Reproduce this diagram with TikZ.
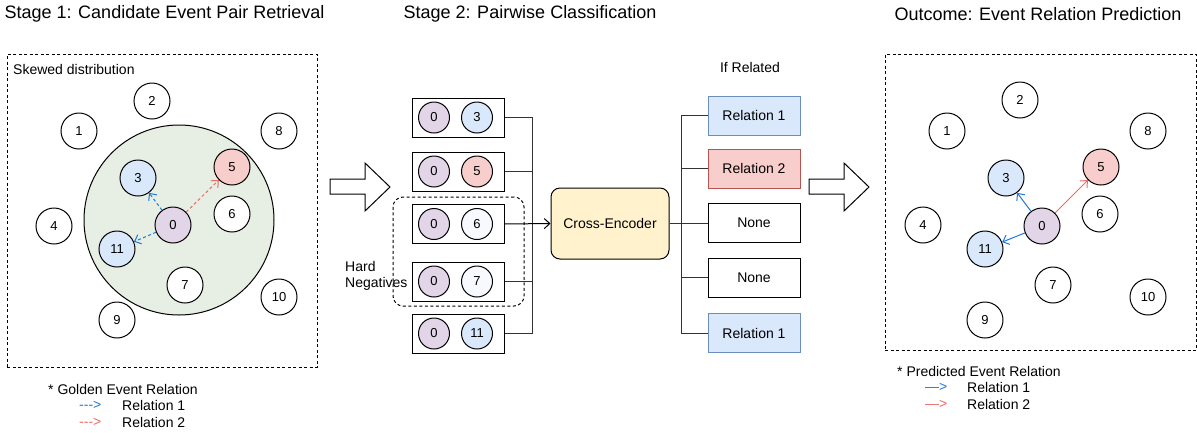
\documentclass[tikz,border=0pt]{standalone}
\usepackage{fontspec}
\setmainfont{Liberation Sans}
\usetikzlibrary{arrows.meta}

\definecolor{bluefill}{HTML}{DAE8FC}
\definecolor{blueline}{HTML}{6C8EBF}
\definecolor{redfill}{HTML}{F8CECC}
\definecolor{redline}{HTML}{B85450}
\definecolor{purplefill}{HTML}{E1D5E7}
\definecolor{greenfill}{HTML}{E7EEE3}
\definecolor{yellowfill}{HTML}{FFF2CC}
\definecolor{relblue}{HTML}{1E78DC}
\definecolor{relred}{HTML}{EA6B66}
\definecolor{negfill}{HTML}{F8F9FF}
\definecolor{wire}{HTML}{333333}

\begin{document}
\begin{tikzpicture}[x=1pt,y=-1pt,
  font=\fontsize{14}{16}\selectfont,
  title/.style={anchor=west,font=\fontsize{18}{21}\selectfont},
  ev/.style={circle,draw=black,line width=1pt,minimum size=36pt,inner sep=0pt,fill=white,
    font=\fontsize{13}{15}\selectfont},
  pev/.style={ev,minimum size=31pt},
  pairbox/.style={draw=black,line width=1pt,minimum width=92pt,minimum height=39pt,inner sep=0pt},
  relbox/.style={draw=black,line width=1pt,minimum width=92pt,minimum height=39pt,inner sep=0pt},
  frame/.style={draw=black,line width=1pt,dash pattern=on 3pt off 2.5pt},
  opentip/.style={-{Straight Barb[length=5.5pt,width=10pt]}},
  goldrel/.style={opentip,dash pattern=on 3pt off 2.5pt,line width=1pt},
  predrel/.style={opentip,line width=1pt},
  hollow/.style={draw=black,line width=1pt,fill=white},
  wireline/.style={draw=wire,line width=1pt},
  legend/.style={anchor=west,inner sep=0pt}
]
\useasboundingbox (0,0) rectangle (1197,432);

% ---------- titles ----------
\node[title] (t1) at (1,14) {Stage 1: Candidate Event Pair Retrieval};
\node[title] (t2) at (400,14) {Stage 2: Pairwise Classification};
\node[title] (t3) at (891,14) {Outcome: Event Relation Prediction};

% ---------- stage 1: candidate retrieval ----------
\node[frame,minimum width=310pt,minimum height=313pt,inner sep=0pt] (f1) at (162,210.5) {};
\node[legend] (skew) at (13,69) {Skewed distribution};
\node[circle,draw=black,line width=1pt,fill=greenfill,minimum size=190pt,inner sep=0pt] (hub) at (179,220) {};

\node[ev] (a2) at (152,101) {2};
\node[ev] (a1) at (79,131) {1};
\node[ev] (a8) at (279,131) {8};
\node[ev,fill=bluefill] (a3) at (138,178) {3};
\node[ev,fill=redfill] (a5) at (232,167) {5};
\node[ev] (a6) at (232,214) {6};
\node[ev,fill=purplefill] (a0) at (173,225) {0};
\node[ev] (a4) at (54,226) {4};
\node[ev,fill=bluefill] (a11) at (117,249) {11};
\node[ev] (a7) at (185,285) {7};
\node[ev] (a10) at (279,297) {10};
\node[ev] (a9) at (117,320) {9};

\draw[goldrel,relblue] (a0) -- (a3);
\draw[goldrel,relblue] (a0) -- (a11);
\draw[goldrel,relred] (a0) -- (a5);

\node[legend] (gl) at (48,389) {* Golden Event Relation};
\node[legend,text=relblue] (gl1a) at (79,405) {-{}-{}-{}>};
\node[legend] (gl1) at (122,405) {Relation 1};
\node[legend,text=relred] (gl2a) at (79,422) {-{}-{}-{}>};
\node[legend] (gl2) at (122,422) {Relation 2};

% ---------- hollow arrow into stage 2 ----------
\draw[hollow] (330,179) -- (365,179) -- (365,163) -- (390,187)
  -- (365,211) -- (365,194) -- (330,194) -- cycle;

% ---------- stage 2: candidate pairs ----------
\node[frame,rounded corners=10pt,minimum width=131pt,minimum height=109pt] (hn) at (458.5,251.5) {};
\node[anchor=west,align=left,inner sep=0pt] (hnl) at (345,276) {Hard\\Negatives};

\foreach \i/\y in {1/117.5, 2/171.5, 3/224, 4/281.5, 5/333.5}{
  \node[pairbox] (p\i) at (458,\y) {};
  \node[pev,fill=purplefill] (pl\i) at (434,\y) {0};
}
\node[pev,fill=bluefill] (pr1) at (477,117.5) {3};
\node[pev,fill=redfill] (pr2) at (477,171.5) {5};
\node[pev,fill=negfill] (pr3) at (477,224) {6};
\node[pev,fill=negfill] (pr4) at (477,281.5) {7};
\node[pev,fill=bluefill] (pr5) at (477,333.5) {11};

\node[draw=black,line width=1pt,fill=yellowfill,rounded corners=9pt,
  minimum width=118pt,minimum height=71pt,inner sep=0pt] (ce) at (610,223.5) {Cross-Encoder};

\coordinate (ib) at (532,0);
\draw[wireline] (p1.east) -| (ib |- p5.east) -- (p5.east);
\draw[wireline] (p2.east) -- (ib |- p2.east);
\draw[wireline] (p4.east) -- (ib |- p4.east);
\draw[opentip,line width=1pt] (p3.east) -- (ce.west);

% ---------- stage 2: relation outputs ----------
\node[anchor=center] (ifr) at (750,67) {If Related};
\node[relbox,draw=blueline,fill=bluefill] (r1) at (754,115.5) {Relation 1};
\node[relbox,draw=redline,fill=redfill] (r2) at (754,168.5) {Relation 2};
\node[relbox] (r3) at (754,223) {None};
\node[relbox] (r4) at (754,277.5) {None};
\node[relbox,draw=blueline,fill=bluefill] (r5) at (754,333) {Relation 1};

\coordinate (ob) at (681,0);
\draw[wireline] (r1.west) -| (ob |- r5.west) -- (r5.west);
\draw[wireline,line width=1.8pt] (ce.east) -- (ob |- ce.east);
\draw[wireline] (r2.west) -- (ob |- r2.west);
\draw[wireline] (r3.west) -- (ob |- r3.west);
\draw[wireline] (r4.west) -- (ob |- r4.west);

% ---------- hollow arrow into outcome ----------
\draw[hollow] (809,179) -- (844,179) -- (844,163) -- (869,187)
  -- (844,211) -- (844,194) -- (809,194) -- cycle;

% ---------- outcome: predicted relations ----------
\node[frame,minimum width=311pt,minimum height=296pt,inner sep=0pt] (f3) at (1040.5,202) {};

\node[ev] (b2) at (1020,100) {2};
\node[ev] (b1) at (947,131) {1};
\node[ev] (b8) at (1148,131) {8};
\node[ev,fill=bluefill] (b3) at (1006,178) {3};
\node[ev,fill=redfill] (b5) at (1101,167) {5};
\node[ev] (b6) at (1100,214) {6};
\node[ev,fill=purplefill] (b0) at (1042,226) {0};
\node[ev] (b4) at (923,225) {4};
\node[ev,fill=bluefill] (b11) at (985,249) {11};
\node[ev] (b7) at (1053,285) {7};
\node[ev] (b10) at (1148,297) {10};
\node[ev] (b9) at (985,320) {9};

\draw[predrel,relblue] (b0) -- (b3);
\draw[predrel,relblue] (b0) -- (b11);
\draw[predrel,relred] (b0) -- (b5);

\node[legend] (pl) at (897,371) {* Predicted Event Relation};
\node[legend,text=relblue] (pl1a) at (925,387) {—>};
\node[legend] (pl1) at (967,387) {Relation 1};
\node[legend,text=relred] (pl2a) at (925,404) {—>};
\node[legend] (pl2) at (967,404) {Relation 2};
\end{tikzpicture}
\end{document}
